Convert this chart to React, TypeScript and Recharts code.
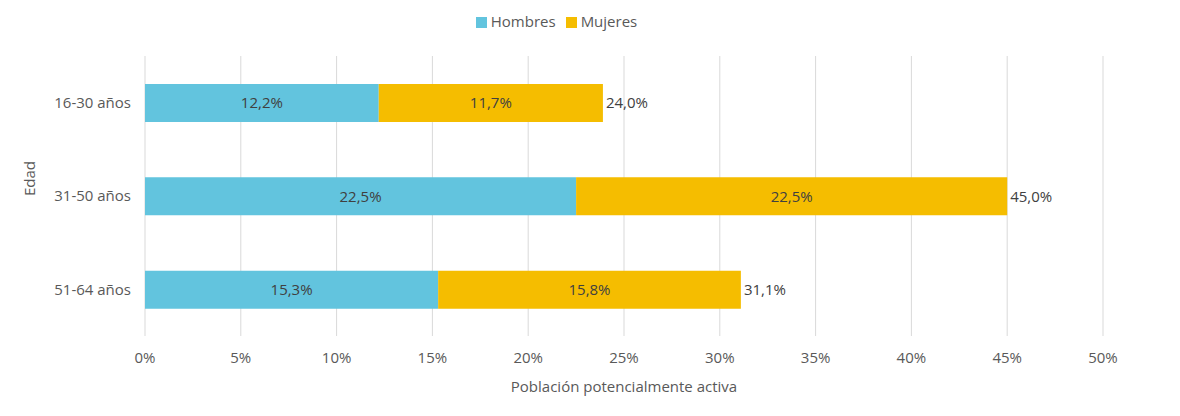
import { BarChart, Bar, XAxis, YAxis, CartesianGrid, Legend, LabelList } from "recharts";

const ages = ["16-30 años", "31-50 años", "51-64 años"];
const hombres = [12.2, 22.5, 15.3];
const mujeres = [11.7, 22.5, 15.8];
const totales = [24.0, 45.0, 31.1];
const ticks = [0, 5, 10, 15, 20, 25, 30, 35, 40, 45, 50];

const data = ages.map((edad, i) => ({ edad, hombres: hombres[i], mujeres: mujeres[i], total: totales[i] }));

const fmt = (v: number) => v.toFixed(1).replace(".", ",") + "%";
const textColor = "#404040";
const font = "'Open Sans', sans-serif";

export default function App() {
  return (
    <div style={{ margin: -8, fontFamily: font }}>
      <BarChart
        width={1180}
        height={416}
        data={data}
        layout="vertical"
        margin={{ top: 36, right: 77, left: 20, bottom: 10 }}
        barSize={38}
      >
        <CartesianGrid horizontal={false} stroke="#d9d9d9" />
        <XAxis
          type="number"
          domain={[0, 50]}
          ticks={ticks}
          tickFormatter={(v) => v + "%"}
          tick={{ fill: "#595959", fontSize: 15 }}
          axisLine={false}
          tickLine={false}
          tickMargin={10}
          height={70}
          label={{ value: "Población potencialmente activa", position: "insideBottom", offset: 14, fill: "#595959", fontSize: 15 }}
        />
        <YAxis
          type="category"
          dataKey="edad"
          width={125}
          tick={{ fill: "#595959", fontSize: 15 }}
          axisLine={false}
          tickLine={false}
          tickMargin={8}
          label={{ value: "Edad", angle: -90, position: "insideLeft", offset: 10, fill: "#595959", fontSize: 15 }}
        />
        <Legend
          verticalAlign="top"
          align="center"
          iconType="square"
          iconSize={11}
          wrapperStyle={{ top: 11, fontSize: 15, color: "#595959" }}
          formatter={(v) => <span style={{ color: "#595959" }}>{v}</span>}
        />
        <Bar dataKey="hombres" name="Hombres" stackId="a" fill="#62c4de" isAnimationActive={false}>
          <LabelList dataKey="hombres" position="center" formatter={(v: number) => fmt(v)} fill={textColor} fontSize={15} />
        </Bar>
        <Bar dataKey="mujeres" name="Mujeres" stackId="a" fill="#f5bd00" isAnimationActive={false}>
          <LabelList dataKey="mujeres" position="center" formatter={(v: number) => fmt(v)} fill={textColor} fontSize={15} />
          <LabelList dataKey="total" position="right" offset={3} formatter={(v: number) => fmt(v)} fill={textColor} fontSize={15} />
        </Bar>
      </BarChart>
    </div>
  );
}
